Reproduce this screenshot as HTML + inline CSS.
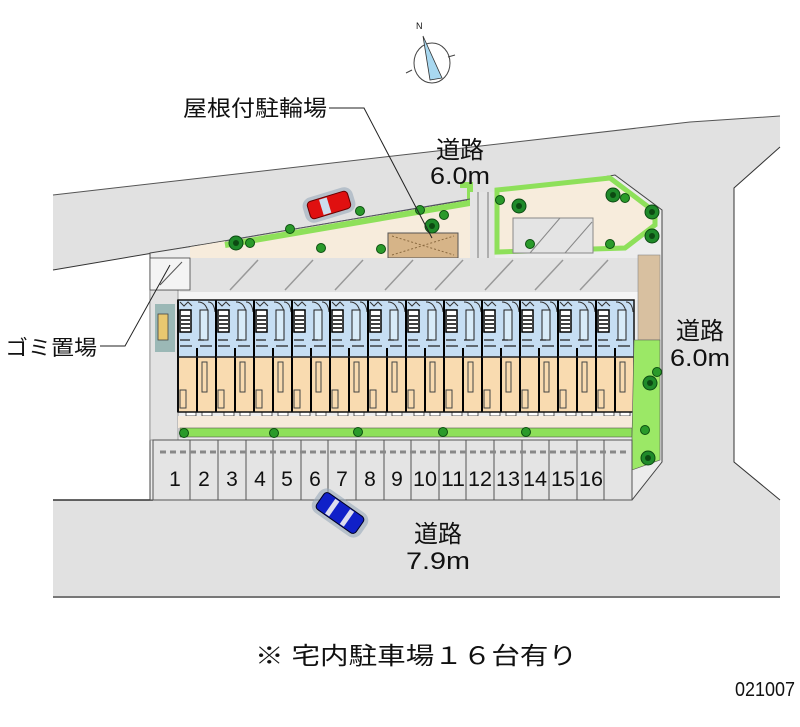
<!DOCTYPE html>
<html><head><meta charset="utf-8"><style>
html,body{margin:0;padding:0;background:#fff;}
svg{display:block;}
text{font-family:"Liberation Sans","Noto Sans CJK JP",sans-serif;fill:#111;}
</style></head><body>
<svg width="800" height="727" viewBox="0 0 800 727" xmlns="http://www.w3.org/2000/svg">
<defs>
<g id="u">
  <rect x="0" y="0" width="38" height="57" fill="#c6def3"/>
  <rect x="0" y="57" width="38" height="55" fill="#f9dbb0"/>
  <path d="M2 2 l4 4 l4 -4 l4 4 M20 2 q8 0 10 10 M30 2 q6 0 7 10" stroke="#333" fill="none" stroke-width="1"/>
  <rect x="2" y="10" width="11" height="22" fill="#fff" stroke="#000" stroke-width="1.5"/>
  <path d="M3 16h9M3 20h9M3 24h9M3 28h9" stroke="#000" stroke-width="1.5"/>
  <rect x="22" y="10" width="8" height="30" fill="#d8ebf8" stroke="#222" stroke-width="1"/>
  <path d="M2 40h10M2 46h12M20 40h6M22 46h12" stroke="#222" stroke-width="1.2"/>
  <path d="M0 0v112M19 48v64" stroke="#000" stroke-width="2"/>
  <path d="M0 57h38" stroke="#222" stroke-width="1.5"/>
  <rect x="24" y="62" width="5" height="30" fill="none" stroke="#444" stroke-width="1"/>
  <rect x="2" y="90" width="6" height="18" fill="none" stroke="#444" stroke-width="1"/>
  <rect x="8" y="112" width="10" height="4" fill="#fff" stroke="#333" stroke-width="0.8"/>
  <rect x="24" y="112" width="10" height="4" fill="#fff" stroke="#333" stroke-width="0.8"/>
</g>
<g id="tree">
  <circle r="7" fill="#1f8a2a" stroke="#0c4a12" stroke-width="1"/>
  <circle r="3" fill="#0c4a12"/>
</g>
<g id="sh"><circle r="4.5" fill="#2a9a2a" stroke="#0d4f10" stroke-width="1"/></g>
</defs>

<polygon points="53,195 690,122 780,116 780,147 734,188 734,462 780,500 780,597 53,597 53,500 632,500 662,462 662,210 615,175 200,245 53,270" fill="#e1e1e1"/>
<polyline points="53,195 690,122 780,116" fill="none" stroke="#555" stroke-width="1"/>
<polyline points="780,147 734,188 734,462 780,500" fill="none" stroke="#333" stroke-width="1"/>
<line x1="53" y1="270" x2="200" y2="245" stroke="#333" stroke-width="1"/>
<line x1="53" y1="500" x2="153" y2="500" stroke="#333" stroke-width="1.5"/>
<line x1="53" y1="597" x2="780" y2="597" stroke="#777" stroke-width="2"/>

<polygon points="150,253 200,245 615,175 662,210 662,462 632,500 150,500" fill="#ececec" stroke="#444" stroke-width="1"/>
<polygon points="190,247 470,200 470,258 190,258" fill="#f7ecdc"/>
<polyline points="225,245 470,203 470,185 460,185" fill="none" stroke="#8ee05a" stroke-width="6"/>
<polyline points="225,245 470,203" fill="none" stroke="#556" stroke-width="1" transform="translate(0,-4)"/>
<rect x="388" y="233" width="70" height="25" fill="#d6b488" stroke="#555" stroke-width="1"/>
<path d="M392 236 L454 255 M392 255 L454 236" stroke="#8a6a40" stroke-dasharray="2,2"/>
<rect x="470" y="192" width="25" height="66" fill="#e4e4e4"/>
<path d="M478 192v66M488 192v66" stroke="#777"/>
<polygon points="497,190 610,178 655,212 655,225 625,248 497,252" fill="#f7ecdc" stroke="#8ee05a" stroke-width="5"/>
<rect x="513" y="218" width="80" height="35" fill="#e4e4e4" stroke="#888"/>
<path d="M530 253 L560 218 M565 253 L592 222" stroke="#888"/>
<rect x="180" y="258" width="458" height="34" fill="#e2e2e2"/>
<path d="M230 290 L258 260 M285 290 L313 260 M335 290 L363 260 M385 290 L413 260 M435 290 L463 260 M485 290 L513 260 M535 290 L563 260 M580 290 L608 260" stroke="#999" stroke-width="1.5"/>
<rect x="178" y="292" width="460" height="8" fill="#f5f5f5"/>
<rect x="150" y="290" width="28" height="150" fill="#e2e2e2" stroke="#888" stroke-width="0.8"/>
<rect x="155" y="304" width="20" height="48" fill="#9bb8b6"/>
<rect x="158" y="314" width="10" height="26" fill="#e8c870" stroke="#444" stroke-width="0.8"/>
<rect x="150" y="258" width="40" height="32" fill="#f4f4f4" stroke="#444" stroke-width="0.8"/>
<line x1="160" y1="285" x2="182" y2="262" stroke="#555"/>
<use href="#u" x="178" y="300"/><use href="#u" x="216" y="300"/><use href="#u" x="254" y="300"/><use href="#u" x="292" y="300"/>
<use href="#u" x="330" y="300"/><use href="#u" x="368" y="300"/><use href="#u" x="406" y="300"/><use href="#u" x="444" y="300"/>
<use href="#u" x="482" y="300"/><use href="#u" x="520" y="300"/><use href="#u" x="558" y="300"/><use href="#u" x="596" y="300"/>
<rect x="178" y="300" width="456" height="112" fill="none" stroke="#111" stroke-width="1.5"/>
<rect x="178" y="416" width="456" height="12" fill="#f6eadb"/>
<rect x="180" y="428" width="452" height="9" fill="#8ee05a" stroke="#555" stroke-width="0.6"/>
<rect x="638" y="255" width="22" height="85" fill="#d8c0a0" stroke="#888" stroke-width="0.6"/>
<polygon points="634,340 660,340 660,460 632,470 632,437" fill="#9be866" stroke="#555" stroke-width="0.6"/>
<rect x="153" y="440" width="479" height="60" fill="#e4e4e4" stroke="#555" stroke-width="1"/>
<g stroke="#555" stroke-width="1">
<line x1="190" y1="440" x2="190" y2="500"/><line x1="218" y1="440" x2="218" y2="500"/><line x1="246" y1="440" x2="246" y2="500"/><line x1="273" y1="440" x2="273" y2="500"/><line x1="301" y1="440" x2="301" y2="500"/><line x1="328" y1="440" x2="328" y2="500"/><line x1="356" y1="440" x2="356" y2="500"/><line x1="384" y1="440" x2="384" y2="500"/><line x1="411" y1="440" x2="411" y2="500"/><line x1="439" y1="440" x2="439" y2="500"/><line x1="466" y1="440" x2="466" y2="500"/><line x1="494" y1="440" x2="494" y2="500"/><line x1="522" y1="440" x2="522" y2="500"/><line x1="549" y1="440" x2="549" y2="500"/><line x1="577" y1="440" x2="577" y2="500"/><line x1="604" y1="440" x2="604" y2="500"/>
</g>
<line x1="160" y1="452" x2="630" y2="452" stroke="#888" stroke-width="3" stroke-dasharray="6,4"/>
<g font-size="21" text-anchor="middle">
<text x="175" y="486">1</text><text x="204" y="486">2</text><text x="232" y="486">3</text><text x="260" y="486">4</text><text x="287" y="486">5</text><text x="315" y="486">6</text><text x="342" y="486">7</text><text x="370" y="486">8</text><text x="397" y="486">9</text>
<text x="425" y="486" textLength="24" lengthAdjust="spacingAndGlyphs">10</text><text x="453" y="486" textLength="24" lengthAdjust="spacingAndGlyphs">11</text><text x="480" y="486" textLength="24" lengthAdjust="spacingAndGlyphs">12</text><text x="508" y="486" textLength="24" lengthAdjust="spacingAndGlyphs">13</text><text x="535" y="486" textLength="24" lengthAdjust="spacingAndGlyphs">14</text><text x="563" y="486" textLength="24" lengthAdjust="spacingAndGlyphs">15</text><text x="591" y="486" textLength="24" lengthAdjust="spacingAndGlyphs">16</text>
</g>
<use href="#tree" x="236" y="243"/><use href="#tree" x="432" y="226"/><use href="#tree" x="519" y="206"/><use href="#tree" x="613" y="195"/><use href="#tree" x="652" y="212"/><use href="#tree" x="652" y="236"/><use href="#tree" x="650" y="383"/><use href="#tree" x="648" y="458"/>
<use href="#sh" x="250" y="243"/><use href="#sh" x="290" y="229"/><use href="#sh" x="360" y="211"/><use href="#sh" x="420" y="210"/><use href="#sh" x="444" y="215"/><use href="#sh" x="321" y="248"/><use href="#sh" x="381" y="249"/><use href="#sh" x="500" y="200"/><use href="#sh" x="625" y="198"/><use href="#sh" x="530" y="244"/><use href="#sh" x="610" y="244"/><use href="#sh" x="657" y="372"/><use href="#sh" x="645" y="430"/>
<use href="#sh" x="184" y="433"/><use href="#sh" x="274" y="433"/><use href="#sh" x="358" y="432"/><use href="#sh" x="443" y="432"/><use href="#sh" x="526" y="432"/>
<g transform="translate(329,205) rotate(-17)">
<rect x="-26" y="-13" width="52" height="26" rx="9" fill="#9ab" opacity="0.6"/>
<rect x="-21" y="-9" width="42" height="18" rx="4" fill="#e01010" stroke="#600" stroke-width="1"/>
<rect x="-8" y="-8" width="8" height="16" fill="#cde"/>
</g>
<g transform="translate(340,513) rotate(35)">
<rect x="-29" y="-14" width="58" height="28" rx="9" fill="#9ab" opacity="0.6"/>
<rect x="-24" y="-10" width="48" height="20" rx="4" fill="#1020c8" stroke="#002" stroke-width="1"/>
<rect x="-12" y="-9" width="5" height="18" fill="#dde"/><rect x="6" y="-9" width="5" height="18" fill="#dde"/>
</g>
<g stroke="#444" fill="none" stroke-width="1">
<ellipse cx="432" cy="63" rx="18" ry="20"/>
<line x1="406" y1="73" x2="412" y2="70"/><line x1="448" y1="57" x2="455" y2="55"/>
</g>
<polygon points="423,36 430,80 442,78" fill="#a8d8f0" stroke="#333" stroke-width="0.8"/>
<text x="416" y="29" font-size="9" font-family="Liberation Serif">N</text>
<text x="183" y="116" font-size="22" textLength="144" lengthAdjust="spacingAndGlyphs">屋根付駐輪場</text>
<polyline points="329,108 364,108 432,238" fill="none" stroke="#222" stroke-width="1"/>
<text x="460" y="158" font-size="24" text-anchor="middle">道路</text>
<text x="460" y="184" font-size="24" text-anchor="middle" textLength="60" lengthAdjust="spacingAndGlyphs">6.0m</text>
<text x="700" y="339" font-size="24" text-anchor="middle">道路</text>
<text x="700" y="366" font-size="24" text-anchor="middle" textLength="60" lengthAdjust="spacingAndGlyphs">6.0m</text>
<text x="5" y="355" font-size="21" textLength="92" lengthAdjust="spacingAndGlyphs">ゴミ置場</text>
<polyline points="100,346 125,346 170,265" fill="none" stroke="#222" stroke-width="1"/>
<text x="438" y="542" font-size="24" text-anchor="middle">道路</text>
<text x="438" y="569" font-size="24" text-anchor="middle" textLength="64" lengthAdjust="spacingAndGlyphs">7.9m</text>
<text x="255" y="664" font-size="24" textLength="322" lengthAdjust="spacingAndGlyphs">※ 宅内駐車場１６台有り</text>
<text x="735" y="696" font-size="20" textLength="60" lengthAdjust="spacingAndGlyphs">021007</text>
</svg>
</body></html>
